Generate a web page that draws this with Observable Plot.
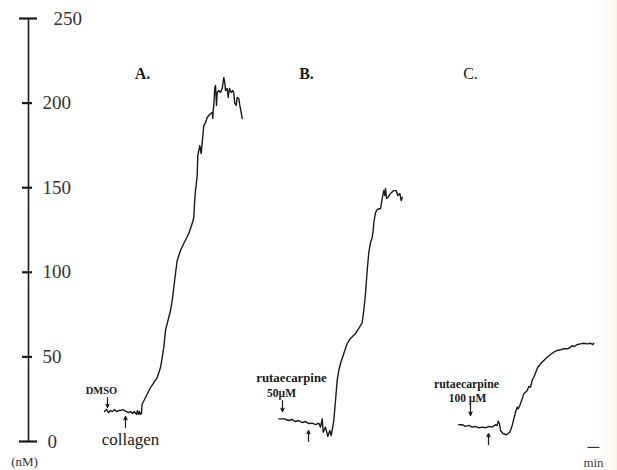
<!DOCTYPE html>
<html><head><meta charset="utf-8">
<script src="https://cdn.jsdelivr.net/npm/d3@7"></script>
<script src="https://cdn.jsdelivr.net/npm/@observablehq/plot@0.6"></script>
<style>body{margin:0;background:linear-gradient(to right,#fff 0,#fff 600px,#fbfaf0 610px,#f8f6e6 617px)}</style>
</head><body><div id="chart"></div>
<script>
// y-axis ticks (nM)
const yTicks = [0, 50, 100, 150, 200, 250];
// time (arbitrary units) and [Ca2+]i (nM)
const tA = [76,78,80,82,84,86,88,90,92,94,96,98,100,102,104,106,108,109,110,111,112,113,113.5,117,122,128.7,132,133.7,135.3,137,138.7,142,143.7,145.3,147,148.7,152,155.3,160.3,163.7,165.3,166,167,168.7,169.3,171.3,172.7,173.7,175.3,177,178.7,180.3,182,183.7,184.3,184.7,185.3,186,186.3,187,188,188.7,190.3,192,193.7,195.3,196.3,197,198.7,199.7,201,202.7,204.3,205.3,206.3,207.7,208.7,210.3,211.3,212,213.7];
const vA = [17.7,19.0,17.1,18.3,17.7,18.9,17.7,18.3,18.3,18.9,18.3,17.7,17.1,17.7,16.5,17.7,16.0,18.3,16.0,17.7,16.0,16.5,21.9,26.0,31.9,37.8,43.7,49.6,55.6,65.6,69.7,77.4,83.3,91.0,99.3,107.0,112.9,117.0,122.9,128.8,132.4,140.7,148.3,157.2,169.0,174.9,170.2,176.7,186.8,188.5,191.5,192.7,193.8,194.4,190.9,195.6,198.6,206.3,209.2,210.4,198.6,206.3,207.4,206.3,208.6,215.1,212.2,207.4,208.6,203.3,208.6,206.3,207.4,205.7,199.8,198.6,203.3,202.7,198.6,196.8,190.9];
const tB = [250.3,255.3,260.3,263.7,267,270.3,273.7,277,280.3,283.7,287,290.3,292,293.7,294.7,297,299.3,301.3,302.7,305.3,307,308.7,310.3,312,315.3,318.7,322,327,330.3,333.7,335.3,337,338.7,340.3,342,343.7,344.7,345.3,347,348.7,352,353.7,355.3,356.3,357,358,359.3,362,365.3,367.7,369.3,371.3,372.7,373.7];
const vB = [13.4,13.4,12.4,13.0,11.8,12.4,11.2,11.8,10.6,10.8,10.0,10.8,8.5,13.4,5.5,8.5,3.0,6.5,3.5,12.4,24.2,36.1,42.0,46.1,52.0,57.9,60.9,63.8,66.8,70.3,77.4,87.5,101.1,111.7,117.6,120.6,124.7,129.4,135.3,137.1,137.7,143.6,148.3,145.4,149.5,143.6,144.2,146.6,148.3,148.3,145.4,146.6,142.4,144.2];
const tC = [430.3,433.7,437,440.3,443.7,447,450.3,453.7,457,460.3,463.7,467,468.7,469.7,471,472,474.7,478,481.3,483.7,485.3,487,488.7,489.7,491.3,493.7,495.3,497,498.7,500.3,502,503.7,505.3,508,509.3,512,515.3,518.7,522,525.3,528.7,532,535.3,538.7,542,543.7,545.3,548.7,552,555.3,558.7,562,564.3,565.3];
const vC = [9.9,10.0,8.9,9.5,8.5,8.9,8.1,8.5,8.1,8.9,8.5,9.9,9.5,12.0,10.5,6.5,4.6,4.0,5.5,9.5,13.4,17.3,20.3,19.3,21.3,25.2,28.2,29.1,30.1,32.5,32.1,36.1,38.0,42.0,43.9,45.9,47.9,49.8,51.4,52.8,53.8,54.2,54.8,54.8,55.7,56.7,56.1,57.3,57.7,58.1,57.7,58.1,57.3,58.1];

// annotation texts
const panelLabels = ["A.", "B.", "C."];
const panelT = [114, 278, 442];
const noteText = ["DMSO", "rutaecarpine", "50\u00b5M", "rutaecarpine", "100 \u00b5M"];
const noteT = [73, 263, 253, 438, 439];
const noteV = [30.1, 37.8, 28.4, 33.7, 25.4];
// arrows: [t, v_from, v_to]
const arrowT = [79, 97, 254, 280, 442, 460];
const arrowV1 = [26.0, 8.3, 24.2, 0.0, 21.9, -1.8];
const arrowV2 = [20.1, 14.8, 17.7, 6.5, 15.4, 4.7];

const toRows = (t, v, s) => t.map((d, i) => ({t: d, v: v[i], s}));
const traces = [...toRows(tA, vA, "A"), ...toRows(tB, vB, "B"), ...toRows(tC, vC, "C")];
const arrows = arrowT.map((d, i) => ({t: d, v1: arrowV1[i], v2: arrowV2[i]}));
const noteSize = [10.5, 12.8, 11.5, 11.8, 11.5];
const notes = noteText.map((d, i) => ({text: d, t: noteT[i], v: noteV[i], size: noteSize[i]}));
const panels = panelLabels.map((d, i) => ({text: d, t: panelT[i], v: 217.5}));
const ink = "#1a1a1a";
const serif = "Liberation Serif, Times New Roman, serif";

const chart = Plot.plot({
  width: 617, height: 470,
  marginLeft: 28, marginRight: 0, marginTop: 18, marginBottom: 29,
  x: {domain: [0, 589], axis: null},
  y: {domain: [0, 250], axis: null},
  style: {fontFamily: serif, background: "transparent", overflow: "visible"},
  marks: [
    Plot.ruleX([0], {y1: 0, y2: 250, stroke: ink, strokeWidth: 1.6}),
    Plot.ruleY(yTicks, {y: d => d, x1: d => (d === 0 || d === 250) ? -9 : -6, x2: d => (d === 0 || d === 250) ? 9 : 4, stroke: ink, strokeWidth: 2.2}),
    Plot.text(yTicks, {y: d => d, x: d => d === 250 ? 25 : d === 0 ? 19 : 14, text: d => String(d), textAnchor: "start", fontSize: 19, fill: "#333"}),
    Plot.text(["(nM)"], {x: -4, y: -12, text: d => d, fontSize: 13, fill: "#333"}),
    Plot.line(traces, {x: "t", y: "v", z: "s", stroke: ink, strokeWidth: 1.4, curve: "linear"}),
    Plot.text(panels.slice(0, 2), {x: "t", y: "v", text: "text", fontSize: 16, fontWeight: "bold", fill: ink}),
    Plot.text(panels.slice(2), {x: "t", y: "v", text: "text", fontSize: 16, fill: ink}),
    Plot.text(notes, {x: "t", y: "v", text: "text", fontSize: d => d.size, fontWeight: "bold", fill: ink}),
    Plot.text(["collagen"], {x: 102, y: 1.2, text: d => d, fontSize: 17, fill: ink}),
    Plot.arrow(arrows, {x: "t", y1: "v1", y2: "v2", stroke: ink, strokeWidth: 1.2, headLength: 5, headAngle: 50}),
    Plot.link([{a: 559, b: 571}], {x1: "a", x2: "b", y1: -3.5, y2: -3.5, stroke: "#333", strokeWidth: 1.2}),
    Plot.text(["min"], {x: 565, y: -12.4, text: d => d, fontSize: 13, fill: "#444"})
  ]
});
document.getElementById("chart").appendChild(chart);
</script>
</body></html>
